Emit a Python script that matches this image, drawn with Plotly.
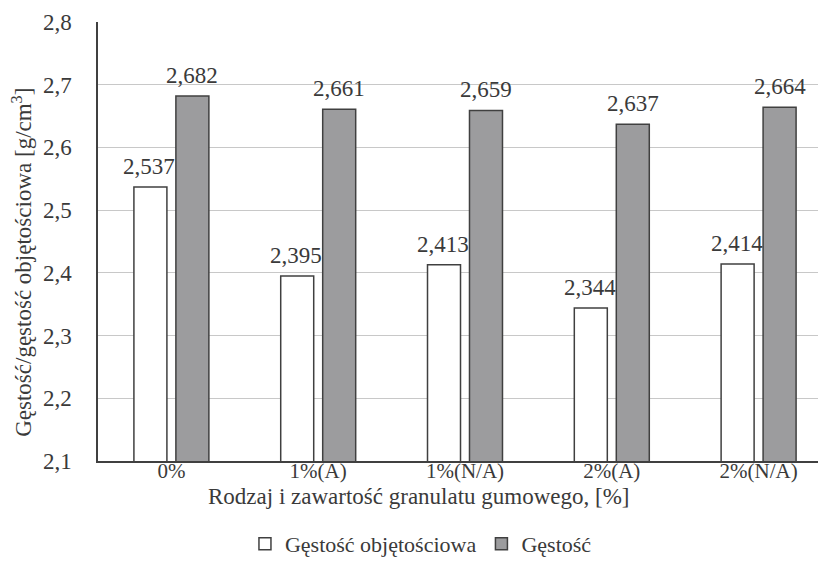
import plotly.graph_objects as go

categories = ["0%", "1%(A)", "1%(N/A)", "2%(A)", "2%(N/A)"]
bulk_density = [2.537, 2.395, 2.413, 2.344, 2.414]
density = [2.682, 2.661, 2.659, 2.637, 2.664]
series_names = ["Gęstość objętościowa", "Gęstość"]
x_title = "Rodzaj i zawartość granulatu gumowego, [%]"
y_title = "Gęstość/gęstość objętościowa [g/cm<sup>3</sup>]"

FONT = "Liberation Serif, Times New Roman, serif"
TXT = "#3a3a3a"

fig = go.Figure()
fig.add_trace(go.Bar(
    x=categories, y=bulk_density, name=series_names[0],
    marker=dict(color="white", line=dict(color="#404040", width=1.5)),
))
fig.add_trace(go.Bar(
    x=categories, y=density, name=series_names[1],
    marker=dict(color="#9c9c9e", line=dict(color="#404040", width=1.5)),
))

def fmt(v):
    return f"{v:.3f}".replace(".", ",")

annotations = []
for c, v in zip(categories, bulk_density):
    annotations.append(dict(x=c, y=v, xref="x", yref="y", text=fmt(v),
                            xshift=-22, yshift=6, yanchor="bottom", showarrow=False,
                            font=dict(family=FONT, size=23, color=TXT)))
for c, v in zip(categories, density):
    annotations.append(dict(x=c, y=v, xref="x", yref="y", text=fmt(v),
                            xshift=21, yshift=6, yanchor="bottom", showarrow=False,
                            font=dict(family=FONT, size=23, color=TXT)))
# axis titles
annotations.append(dict(x=0.438, y=-0.08, xref="paper", yref="paper", text=x_title,
                        xanchor="center", yanchor="middle", showarrow=False,
                        font=dict(family=FONT, size=23, color=TXT)))
annotations.append(dict(x=-0.104, y=0.453, xref="paper", yref="paper", text=y_title,
                        textangle=-90, xanchor="center", yanchor="middle", showarrow=False,
                        font=dict(family=FONT, size=23, color=TXT)))

fig.update_layout(
    width=826, height=557,
    margin=dict(l=90, r=2, t=14, b=104),
    paper_bgcolor="white", plot_bgcolor="white",
    separators=",.",
    barmode="group", bargap=0.428, bargroupgap=0.214,
    font=dict(family=FONT, size=22, color=TXT),
    annotations=annotations,
    xaxis=dict(
        showline=True, linecolor="#404040", linewidth=1.5,
        tickfont=dict(family=FONT, size=21, color=TXT),
        ticks="", ticklabelstandoff=-10, automargin=False,
    ),
    yaxis=dict(
        range=[2.1, 2.8], dtick=0.1, tickformat=".1f",
        showline=True, linecolor="#404040", linewidth=1.5,
        showgrid=True, gridcolor="#c8c8c8", gridwidth=1,
        zeroline=False, automargin=False,
        tickfont=dict(family=FONT, size=23, color=TXT),
        ticks="", ticklabelstandoff=20,
    ),
    legend=dict(
        orientation="h", x=0.44, xanchor="center",
        yref="container", y=0.0, yanchor="bottom",
        font=dict(family=FONT, size=22, color=TXT),
        itemwidth=30, traceorder="normal",
    ),
    showlegend=True,
)

fig.write_html("out.html")
